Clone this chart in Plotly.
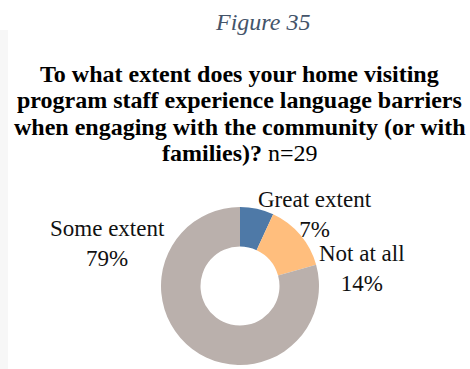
import plotly.graph_objects as go

# Survey responses (n=29)
categories = ["Great extent", "Not at all", "Some extent"]
counts = [2, 4, 23]
colors = ["#4E79A7", "#FFBE7D", "#BAB0AC"]
n_total = sum(counts)

W, H = 470, 369

def px(x):
    return x / W

def py(y):
    return 1 - y / H

fig = go.Figure()

# donut: square domain centred at (240, 286) px, radius ~79 px
cx, cy, r = 240, 286, 79
fig.add_trace(go.Pie(
    labels=categories,
    values=counts,
    marker=dict(colors=colors, line=dict(width=0)),
    hole=0.5,
    sort=False,
    direction="clockwise",
    rotation=0,
    textinfo="none",
    hoverinfo="label+percent",
    showlegend=False,
    domain=dict(x=[px(cx - r), px(cx + r)], y=[py(cy + r), py(cy - r)]),
))

serif = "Liberation Serif, Times New Roman, serif"
label_pos = {
    "Great extent": (315, 214),
    "Not at all": (362, 268),
    "Some extent": (107, 243),
}
for cat, v in zip(categories, counts):
    x, y = label_pos[cat]
    pct = round(100 * v / n_total)
    fig.add_annotation(
        x=px(x), y=py(y), xref="paper", yref="paper",
        text=f"{cat}<br>{pct}%", showarrow=False,
        font=dict(family=serif, size=23, color="#111111"),
        xanchor="center", yanchor="middle", align="center",
    )

# figure caption
fig.add_annotation(
    x=px(262), y=py(22), xref="paper", yref="paper",
    text="<i>Figure 35</i>", showarrow=False,
    font=dict(family=serif, size=24, color="#44546A"),
    xanchor="center", yanchor="middle",
)

# chart title
title_lines = [
    "<b>To what extent does your home visiting</b>",
    "<b>program staff experience language barriers</b>",
    "<b>when engaging with the community (or with</b>",
    "<b>families)?</b> n=29",
]
for i, line in enumerate(title_lines):
    fig.add_annotation(
        x=px(240), y=py(74 + 26.3 * i), xref="paper", yref="paper",
        text=line, showarrow=False,
        font=dict(family=serif, size=24, color="#000000"),
        xanchor="center", yanchor="middle",
    )

# faint frame edge on the left
fig.add_shape(
    type="rect", xref="paper", yref="paper",
    x0=0, x1=px(8), y0=0, y1=py(30),
    fillcolor="#F7F7F7", line=dict(width=0), layer="below",
)

fig.update_layout(
    width=W, height=H,
    margin=dict(l=0, r=0, t=0, b=0),
    paper_bgcolor="white",
    plot_bgcolor="white",
)

fig.write_html("out.html")
